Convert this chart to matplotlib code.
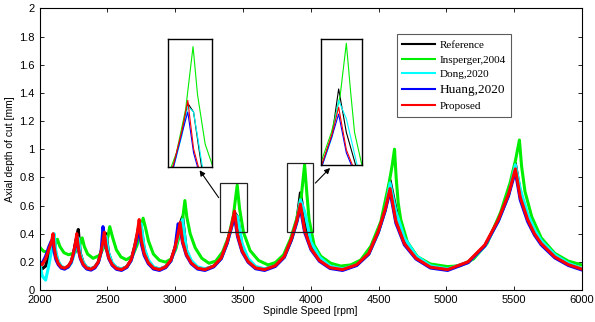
import matplotlib
matplotlib.use('Agg')
import matplotlib.pyplot as plt
from matplotlib.patches import Rectangle

# shared spindle-speed grid for Reference / Dong / Huang / Proposed
# (one row per lobe: points after the left cusp ... up to the next cusp)
rpm = [2000, 2020, 2045, 2070, 2088, 2100,
       2108, 2121, 2138, 2160, 2185, 2212, 2234, 2252, 2266, 2275,
       2286, 2301, 2322, 2348, 2380, 2409, 2434, 2454, 2468, 2478,
       2491, 2510, 2535, 2567, 2605, 2644, 2676, 2702, 2722, 2735,
       2750, 2772, 2802, 2840, 2885, 2931, 2969, 2999, 3022, 3037,
       3055, 3083, 3119, 3165, 3220, 3285, 3340, 3384, 3416, 3438,
       3460, 3494, 3538, 3593, 3660, 3739, 3805, 3858, 3898, 3924,
       3955, 4002, 4064, 4142, 4235, 4340, 4428, 4498, 4550, 4585,
       4628, 4691, 4776, 4883, 5010, 5160, 5284, 5384, 5459, 5509,
       5545, 5600, 5650, 5700, 5800, 5900, 6000]

reference = [0.17, 0.15, 0.17, 0.25, 0.32, 0.37,
             0.36, 0.25, 0.20, 0.165, 0.155, 0.168, 0.20, 0.265, 0.34, 0.38,
             0.43, 0.26, 0.195, 0.16, 0.15, 0.165, 0.20, 0.27, 0.34, 0.40,
             0.40, 0.26, 0.19, 0.158, 0.148, 0.166, 0.214, 0.31, 0.40, 0.47,
             0.45, 0.29, 0.205, 0.16, 0.148, 0.166, 0.21, 0.30, 0.39, 0.47,
             0.52, 0.28, 0.20, 0.158, 0.148, 0.17, 0.226, 0.338, 0.45, 0.55,
             0.52, 0.31, 0.215, 0.162, 0.148, 0.173, 0.236, 0.36, 0.49, 0.69,
             0.50, 0.32, 0.225, 0.165, 0.148, 0.18, 0.258, 0.41, 0.57, 0.78,
             0.58, 0.36, 0.24, 0.168, 0.148, 0.196, 0.315, 0.495, 0.675, 0.90,
             0.70, 0.52, 0.41, 0.34, 0.245, 0.185, 0.15]

dong = [0.20, 0.10, 0.07, 0.18, 0.28, 0.35,
        0.40, 0.27, 0.205, 0.168, 0.158, 0.163, 0.19, 0.245, 0.30, 0.33,
        0.37, 0.255, 0.195, 0.162, 0.152, 0.163, 0.195, 0.26, 0.32, 0.36,
        0.38, 0.26, 0.196, 0.16, 0.15, 0.165, 0.21, 0.30, 0.39, 0.45,
        0.47, 0.30, 0.215, 0.165, 0.15, 0.165, 0.206, 0.29, 0.38, 0.46,
        0.50, 0.29, 0.21, 0.165, 0.15, 0.168, 0.222, 0.33, 0.44, 0.54,
        0.52, 0.33, 0.225, 0.168, 0.15, 0.172, 0.232, 0.355, 0.48, 0.64,
        0.56, 0.34, 0.235, 0.17, 0.15, 0.178, 0.255, 0.405, 0.565, 0.76,
        0.56, 0.37, 0.245, 0.172, 0.15, 0.195, 0.31, 0.49, 0.67, 0.89,
        0.72, 0.54, 0.43, 0.35, 0.25, 0.19, 0.152]

huang = [0.20, 0.19, 0.24, 0.31, 0.35, 0.33,
         0.27, 0.215, 0.18, 0.155, 0.148, 0.163, 0.198, 0.262, 0.33, 0.37,
         0.29, 0.222, 0.176, 0.149, 0.141, 0.157, 0.195, 0.27, 0.45, 0.39,
         0.30, 0.224, 0.176, 0.147, 0.139, 0.16, 0.21, 0.30, 0.38, 0.43,
         0.33, 0.245, 0.187, 0.149, 0.139, 0.159, 0.206, 0.296, 0.47, 0.44,
         0.335, 0.245, 0.186, 0.149, 0.139, 0.164, 0.222, 0.332, 0.447, 0.52,
         0.38, 0.27, 0.197, 0.151, 0.139, 0.167, 0.232, 0.356, 0.485, 0.58,
         0.41, 0.286, 0.204, 0.153, 0.139, 0.174, 0.254, 0.408, 0.566, 0.70,
         0.475, 0.32, 0.22, 0.156, 0.139, 0.194, 0.313, 0.49, 0.67, 0.84,
         0.64, 0.485, 0.39, 0.32, 0.228, 0.174, 0.142]

proposed = [0.19, 0.18, 0.22, 0.29, 0.34, 0.40,
            0.302, 0.233, 0.189, 0.162, 0.155, 0.170, 0.204, 0.270, 0.339, 0.40,
            0.299, 0.229, 0.183, 0.156, 0.148, 0.164, 0.200, 0.271, 0.345, 0.41,
            0.304, 0.230, 0.182, 0.153, 0.145, 0.166, 0.216, 0.312, 0.411, 0.50,
            0.358, 0.259, 0.195, 0.156, 0.145, 0.165, 0.212, 0.302, 0.396, 0.48,
            0.346, 0.252, 0.192, 0.155, 0.145, 0.170, 0.228, 0.340, 0.456, 0.56,
            0.394, 0.278, 0.203, 0.157, 0.145, 0.173, 0.238, 0.364, 0.494, 0.61,
            0.424, 0.294, 0.210, 0.159, 0.145, 0.180, 0.260, 0.415, 0.576, 0.72,
            0.490, 0.329, 0.226, 0.162, 0.145, 0.200, 0.320, 0.500, 0.681, 0.86,
            0.66, 0.50, 0.40, 0.33, 0.235, 0.18, 0.148]

# Insperger lobes sit further right and higher, so they get their own grid
insperger_rpm = [2000, 2030, 2060, 2090, 2115, 2132,
                 2150, 2180, 2215, 2260, 2290, 2315,
                 2330, 2355, 2395, 2440, 2480, 2505, 2518,
                 2540, 2567, 2600, 2640, 2685, 2720, 2745, 2764,
                 2780, 2803, 2840, 2885, 2930, 2970, 3005, 3035, 3055, 3072,
                 3086, 3111, 3148, 3197, 3250, 3300, 3350, 3395, 3430, 3458,
                 3475, 3504, 3553, 3615, 3685, 3740, 3800, 3850, 3895, 3930, 3955,
                 3972, 3988, 4025, 4074, 4148, 4221, 4295, 4369, 4443, 4517, 4578, 4600, 4618,
                 4630, 4645, 4664, 4713, 4786, 4882, 5009, 5100, 5200, 5300, 5400, 5470, 5510, 5539,
                 5555, 5580, 5630, 5700, 5800, 5900, 6000]
insperger = [0.305, 0.275, 0.27, 0.29, 0.32, 0.36,
             0.31, 0.265, 0.25, 0.265, 0.30, 0.37,
             0.31, 0.255, 0.225, 0.245, 0.31, 0.38, 0.45,
             0.37, 0.285, 0.235, 0.215, 0.24, 0.32, 0.42, 0.51,
             0.45, 0.35, 0.255, 0.21, 0.198, 0.22, 0.29, 0.40, 0.50, 0.635,
             0.52, 0.40, 0.30, 0.225, 0.19, 0.205, 0.27, 0.38, 0.53, 0.745,
             0.58, 0.41, 0.28, 0.21, 0.178, 0.195, 0.25, 0.36, 0.50, 0.66, 0.89,
             0.68, 0.50, 0.32, 0.24, 0.19, 0.17, 0.178, 0.213, 0.31, 0.485, 0.76, 0.88, 1.00,
             0.80, 0.62, 0.50, 0.34, 0.237, 0.185, 0.166, 0.172, 0.22, 0.33, 0.55, 0.76, 0.92, 1.065,
             0.88, 0.70, 0.52, 0.37, 0.26, 0.205, 0.178]

yticks = [0, 0.2, 0.4, 0.6, 0.8, 1, 1.2, 1.4, 1.6, 1.8, 2]
ytick_labels = ['0', '0.2', '0.4', '0.6', '0.8', '1', '1.2', '1.4', '1.6', '1.8', '2']
xticks = [2000, 2500, 3000, 3500, 4000, 4500, 5000, 5500, 6000]

series = [
    ('Reference', rpm, reference, '#000000'),
    ('Insperger,2004', insperger_rpm, insperger, '#00ee00'),
    ('Dong,2020', rpm, dong, '#00ffff'),
    ('Huang,2020', rpm, huang, '#0000ff'),
    ('Proposed', rpm, proposed, '#ff0000'),
]

# zoom windows: box drawn on the main plot and the range shown in the inset
boxes = [(3333, 3530, 0.41, 0.76), (3827, 4020, 0.41, 0.90)]
views = [(3363, 3530, 0.33, 0.77), (3853, 4018, 0.357, 0.907)]
inset_pos = [[0.2824, 0.4804, 0.0739, 0.3975], [0.5395, 0.4876, 0.0689, 0.390]]
arrow_from = [(3333, 0.64), (4020, 0.745)]
arrow_to = [(0.3328, 0.4783), (0.558, 0.4845)]

plt.rcParams['font.family'] = ['Liberation Sans', 'DejaVu Sans']

fig = plt.figure(figsize=(5.95, 3.22), dpi=100)
ax = fig.add_axes([0.0664, 0.0994, 0.9116, 0.8746])

for name, xs, ys, c in series:
    ax.plot(xs, ys, color=c, lw=2.2, label=name)

ax.set_xlim(2000, 6000)
ax.set_ylim(0, 2)
ax.set_xticks(xticks)
ax.set_yticks(yticks)
ax.set_yticklabels(ytick_labels)
ax.tick_params(direction='in', top=True, right=True, labelsize=8, length=3, width=0.6)
for s in ax.spines.values():
    s.set_linewidth(0.8)
ax.set_xlabel('Spindle Speed [rpm]', fontsize=7.5, labelpad=1)
ax.set_ylabel('Axial depth of cut [mm]', fontsize=7.5, labelpad=3)

for (x0, x1, y0, y1) in boxes:
    ax.add_patch(Rectangle((x0, y0), x1 - x0, y1 - y0, fill=False, ec='#222222', lw=0.9, zorder=5))

for pos, (vx0, vx1, vy0, vy1) in zip(inset_pos, views):
    ins = fig.add_axes(pos)
    for name, xs, ys, c in series:
        ins.plot(xs, ys, color=c, lw=0.8)
    ins.set_xlim(vx0, vx1)
    ins.set_ylim(vy0, vy1)
    ins.set_xticks([])
    ins.set_yticks([])
    for s in ins.spines.values():
        s.set_linewidth(1.0)

for start, end in zip(arrow_from, arrow_to):
    ax.annotate('', xy=end, xycoords='figure fraction', xytext=start, textcoords='data',
                arrowprops=dict(arrowstyle='-|>', color='black', lw=0.8, mutation_scale=8),
                zorder=6)

leg = ax.legend(loc='upper left', bbox_to_anchor=(0.667, 0.893), bbox_transform=fig.transFigure,
                prop={'family': 'Liberation Serif', 'size': 8}, frameon=True, fancybox=False,
                borderaxespad=0, handlelength=2.9, handletextpad=0.45, labelspacing=0.45,
                borderpad=0.5)
leg.get_frame().set_edgecolor('#333333')
leg.get_frame().set_linewidth(0.8)
for t in leg.get_texts():
    if t.get_text() == 'Huang,2020':
        t.set_fontsize(9.5)
for l in leg.get_lines():
    l.set_linewidth(1.5)

fig.savefig('out.png', dpi=100)
